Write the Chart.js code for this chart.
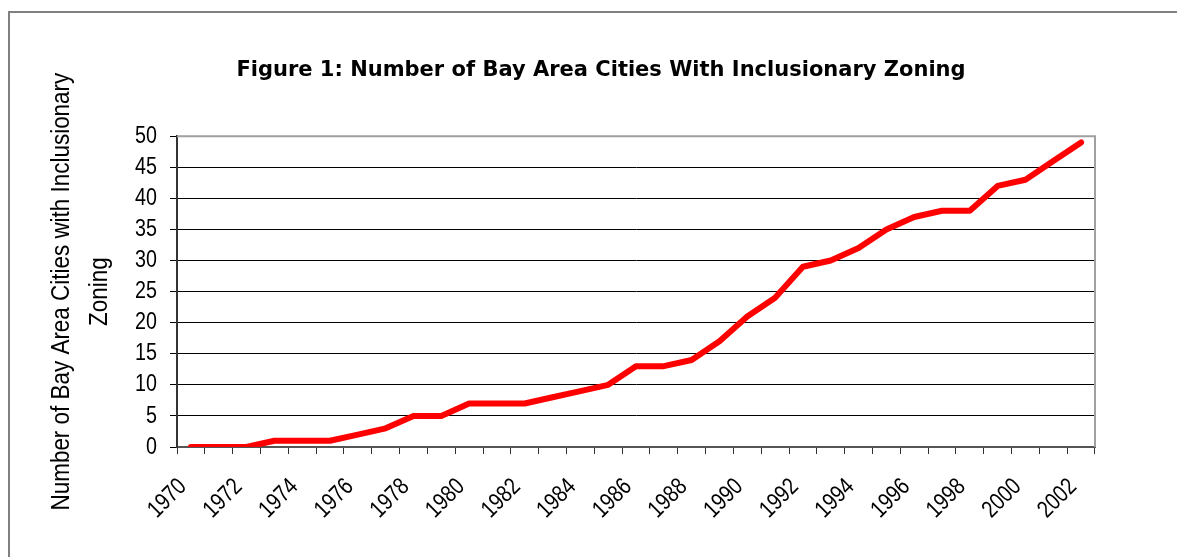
<!DOCTYPE html>
<html>
<head>
<meta charset="utf-8">
<script src="https://cdn.jsdelivr.net/npm/chart.js@4.4.1/dist/chart.umd.min.js"></script>
<style>
  html, body { margin: 0; padding: 0; background: #fff; }
  canvas { display: block; }
</style>
</head>
<body>
<canvas id="c" width="1177" height="557"></canvas>
<script>
const categories = ['1970','1971','1972','1973','1974','1975','1976','1977','1978','1979',
  '1980','1981','1982','1983','1984','1985','1986','1987','1988','1989',
  '1990','1991','1992','1993','1994','1995','1996','1997','1998','1999',
  '2000','2001','2002'];
const citiesWithIZ = [0,0,0,1,1,1,2,3,5,5,
  7,7,7,8,9,10,13,13,14,17,
  21,24,29,30,32,35,37,38,38,42,
  43,46,49];
const yTicks = [0,5,10,15,20,25,30,35,40,45,50];
const chartTitle = 'Figure 1: Number of Bay Area Cities With Inclusionary Zoning';
const yTitle = ['Number of Bay Area Cities with Inclusionary', 'Zoning'];

// Two narrow styles built from Liberation Sans (Arial Narrow look-alike)
const narrowTicks = "'Liberation Sans', Arial, sans-serif";
const narrowTitle = "'Liberation Sans', Helvetica, sans-serif";

const canvas = document.getElementById('c');
const c2d = canvas.getContext('2d');
const origFill = c2d.fillText.bind(c2d);
const origMeasure = c2d.measureText.bind(c2d);
function narrowFactor() {
  const f = c2d.font;
  if (f.indexOf('Liberation Sans') === -1) return 1;
  return f.indexOf('Helvetica') !== -1 ? 0.88 : 0.82;
}
c2d.fillText = function(t, x, y) {
  const k = narrowFactor();
  if (k === 1) return origFill(t, x, y);
  c2d.save();
  c2d.translate(x, y);
  c2d.scale(k, 1);
  origFill(t, 0, 0);
  c2d.restore();
};
c2d.measureText = function(t) {
  const m = origMeasure(t);
  const k = narrowFactor();
  if (k === 1) return m;
  return {
    width: m.width * k,
    actualBoundingBoxAscent: m.actualBoundingBoxAscent,
    actualBoundingBoxDescent: m.actualBoundingBoxDescent,
    actualBoundingBoxLeft: m.actualBoundingBoxLeft * k,
    actualBoundingBoxRight: m.actualBoundingBoxRight * k
  };
};

const framePlugin = {
  id: 'frame',
  afterDraw(chart) {
    const {ctx, chartArea: a} = chart;
    ctx.save();
    ctx.strokeStyle = '#808080';
    ctx.lineWidth = 2;
    ctx.beginPath();
    ctx.moveTo(9, 557);
    ctx.lineTo(9, 12);
    ctx.lineTo(1177, 12);
    ctx.stroke();
    ctx.strokeStyle = '#a0a0a0';
    ctx.lineWidth = 2;
    ctx.beginPath();
    ctx.moveTo(a.left, a.top);
    ctx.lineTo(a.right, a.top);
    ctx.lineTo(a.right, a.bottom);
    ctx.stroke();
    ctx.restore();
  }
};

new Chart(canvas, {
  type: 'line',
  data: {
    labels: categories,
    datasets: [{
      data: citiesWithIZ,
      borderColor: '#ff0000',
      borderWidth: 6,
      borderCapStyle: 'round',
      borderJoinStyle: 'round',
      pointRadius: 0,
      tension: 0,
      fill: false
    }]
  },
  options: {
    responsive: false,
    devicePixelRatio: 1,
    animation: false,
    layout: { padding: { left: 25, right: 0, top: 0, bottom: 0 } },
    plugins: {
      legend: { display: false },
      tooltip: { enabled: false },
      title: {
        display: true,
        text: chartTitle,
        color: '#000',
        font: { family: "'DejaVu Sans', sans-serif", size: 21, weight: 'bold', lineHeight: 1.2 },
        padding: { top: 58, bottom: 53 }
      }
    },
    scales: {
      x: {
        type: 'category',
        offset: true,
        grid: { offset: true, drawOnChartArea: false, drawTicks: true, tickLength: 7, tickColor: '#333', lineWidth: 1 },
        border: { display: true, color: '#555', width: 2 },
        ticks: {
          autoSkip: false,
          minRotation: 45,
          maxRotation: 45,
          padding: 19,
          labelOffset: -8,
          color: '#000',
          font: { family: narrowTicks, size: 24 },
          callback: function(v, i) { return i % 2 === 0 ? categories[i] : ''; }
        },
        afterFit(scale) { scale.height = 110; }
      },
      y: {
        min: 0,
        max: 50,
        afterBuildTicks(scale) { scale.ticks = yTicks.map(v => ({ value: v })); },
        grid: {
          color: ctx => ctx.tick && ctx.tick.value === 50 ? '#a0a0a0' : '#000',
          lineWidth: 1,
          tickLength: 7,
          tickColor: '#000'
        },
        border: { display: true, color: '#333', width: 2 },
        ticks: {
          autoSkip: false,
          padding: 13,
          color: '#000',
          font: { family: narrowTicks, size: 24 }
        },
        title: {
          display: true,
          text: yTitle,
          color: '#000',
          font: { family: narrowTitle, size: 25.5, lineHeight: 1.5 },
          padding: { top: 18, bottom: 0 }
        },
        afterFit(scale) { scale.width = 152; }
      },
      yRight: {
        position: 'right',
        display: true,
        grid: { display: false },
        border: { display: false },
        ticks: { display: false },
        afterFit(scale) { scale.width = 82; }
      }
    }
  },
  plugins: [framePlugin]
});
</script>
</body>
</html>
